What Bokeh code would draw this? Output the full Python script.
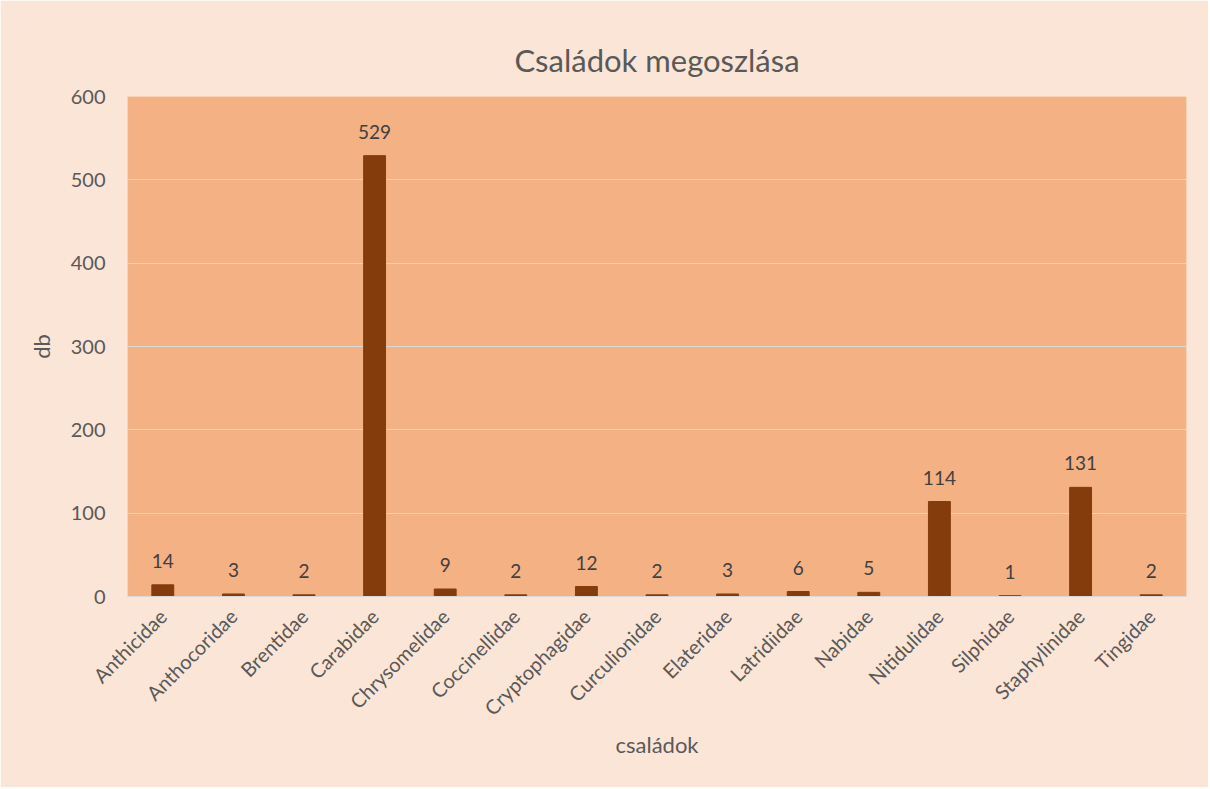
from bokeh.plotting import figure
from bokeh.models import Range1d, ColumnDataSource, LabelSet, FixedTicker
from bokeh.core.properties import value
from bokeh.embed import file_html
from bokeh.resources import INLINE
import math

families = ["Anthicidae", "Anthocoridae", "Brentidae", "Carabidae", "Chrysomelidae",
            "Coccinellidae", "Cryptophagidae", "Curculionidae", "Elateridae", "Latridiidae",
            "Nabidae", "Nitidulidae", "Silphidae", "Staphylinidae", "Tingidae"]
counts = [14, 3, 2, 529, 9, 2, 12, 2, 3, 6, 5, 114, 1, 131, 2]
y_ticks = [0, 100, 200, 300, 400, 500, 600]

FONT = "Lato"
TXT = "#595959"

src = ColumnDataSource(dict(x=families, top=counts, lbl=[str(c) for c in counts]))

p = figure(x_range=families, y_range=Range1d(0, 600), width=1208, height=787,
           output_backend="svg", toolbar_location=None,
           background_fill_color="#F4B183", border_fill_color="#FBE5D6",
           min_border_left=127, min_border_right=22, min_border_top=96, min_border_bottom=191,
           title="Családok megoszlása")
p.outline_line_color = None

p.title.align = "center"
p.title.text_font = FONT
p.title.text_font_size = "31px"
p.title.text_font_style = "normal"
p.title.text_color = TXT
p.title.standoff = 36

p.vbar(x="x", top="top", width=0.31, source=src, color="#843C0C")

labels = LabelSet(x="x", y="top", text="lbl", source=src, y_offset=17,
                  text_align="center", text_baseline="bottom",
                  text_font=value(FONT), text_font_size=value("19px"), text_color="#404040")
p.add_layout(labels)

p.yaxis.ticker = FixedTicker(ticks=y_ticks)
p.yaxis.axis_line_color = None
p.yaxis.major_tick_line_color = None
p.yaxis.minor_tick_line_color = None
p.yaxis.major_label_standoff = 16
p.yaxis.major_label_text_font = FONT
p.yaxis.major_label_text_font_size = "20px"
p.yaxis.major_label_text_color = TXT
p.yaxis.axis_label = "db"
p.yaxis.axis_label_text_font = FONT
p.yaxis.axis_label_text_font_size = "22px"
p.yaxis.axis_label_text_font_style = "normal"
p.yaxis.axis_label_text_color = TXT
p.yaxis.axis_label_standoff = 13

p.xaxis.axis_line_color = "#D9D9D9"
p.xaxis.major_tick_line_color = None
p.xaxis.minor_tick_line_color = None
p.xaxis.major_label_orientation = math.pi / 4
p.xaxis.major_label_standoff = 10
p.xaxis.major_label_text_font = FONT
p.xaxis.major_label_text_font_size = "20px"
p.xaxis.major_label_text_color = TXT
p.xaxis.axis_label = "családok"
p.xaxis.axis_label_text_font = FONT
p.xaxis.axis_label_text_font_size = "22px"
p.xaxis.axis_label_text_font_style = "normal"
p.xaxis.axis_label_text_color = TXT
p.xaxis.axis_label_standoff = 0

p.xgrid.grid_line_color = None
p.ygrid.grid_line_color = "#D9D9D9"
p.ygrid.grid_line_width = 1

open("out.html", "w").write(file_html(p, INLINE))
